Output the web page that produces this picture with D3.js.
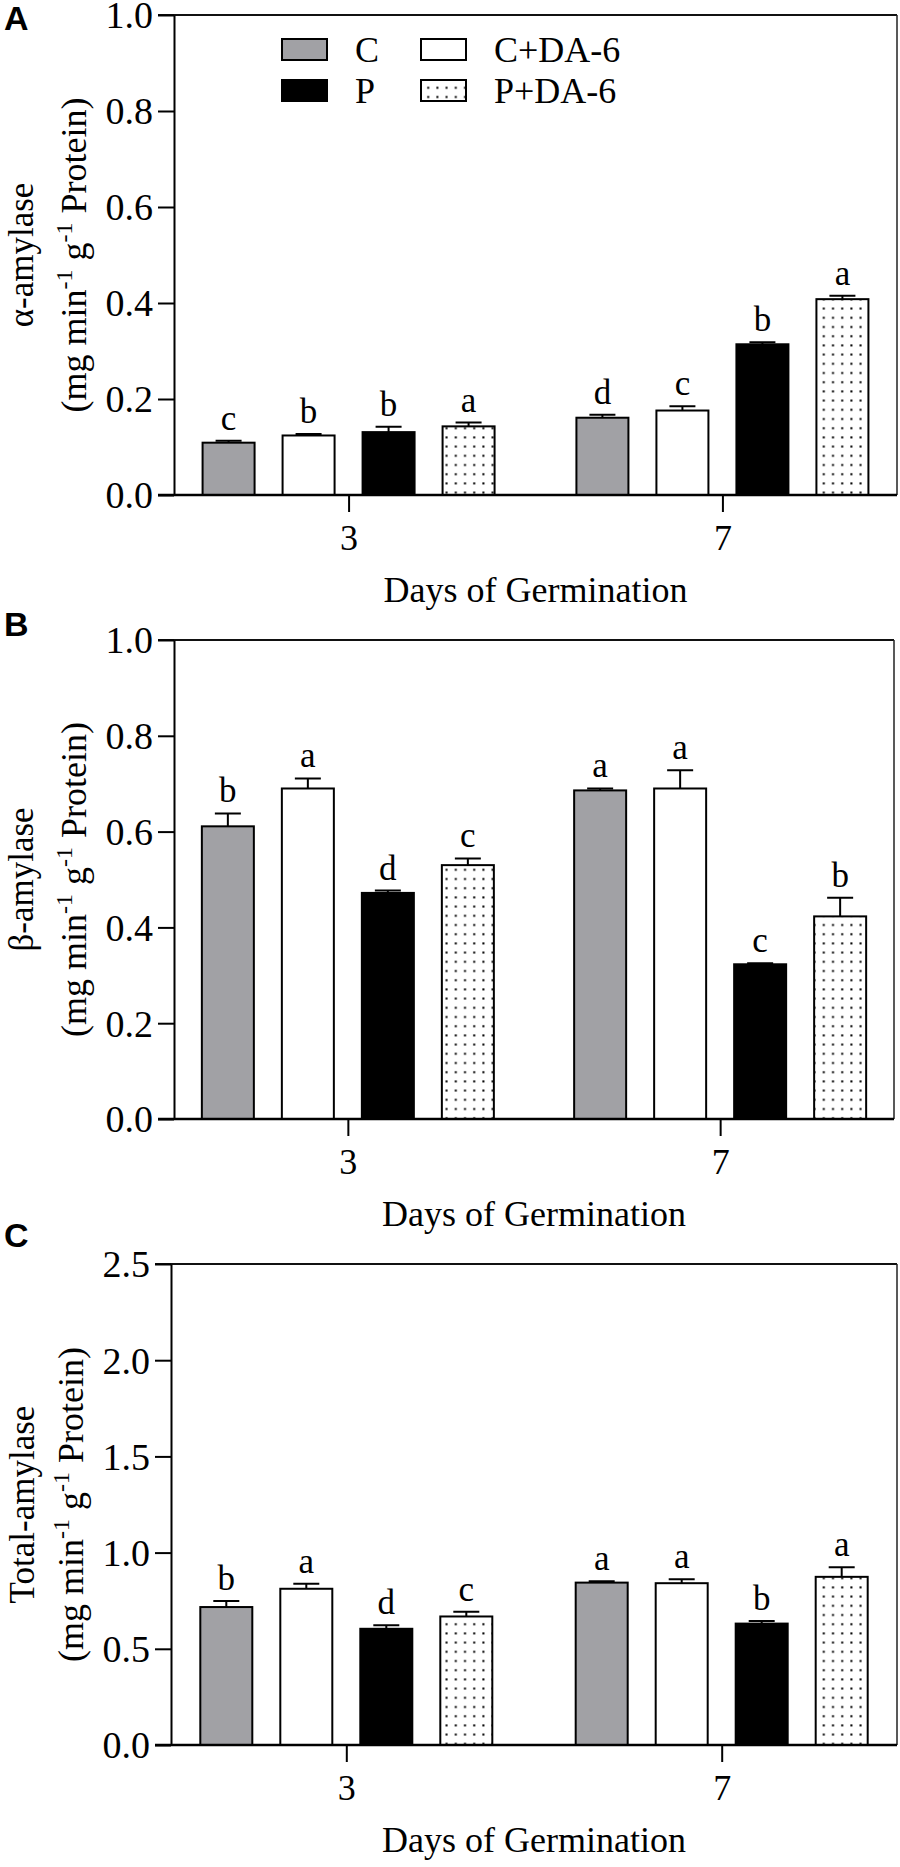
<!DOCTYPE html>
<html>
<head>
<meta charset="utf-8">
<script src="https://cdn.jsdelivr.net/npm/d3@7"></script>
<style>
  body { margin: 0; background: #fff; }
  svg text { font-family: "Liberation Serif", "Times New Roman", serif; fill: #000; }
  .panel-label { font-family: "Liberation Sans", Arial, sans-serif !important; font-weight: bold; }
</style>
</head>
<body>
<svg id="chart" width="900" height="1867"></svg>
<script>
// Categories
var days = ['3', '7'];
var series = ['C', 'C+DA-6', 'P', 'P+DA-6'];

// Panel A: alpha-amylase (day 3 then day 7, in series order)
var alphaMeans = [0.109, 0.124, 0.131, 0.143, 0.161, 0.176, 0.314, 0.408];
var alphaErr = [0.004, 0.003, 0.011, 0.008, 0.006, 0.009, 0.004, 0.007];
var alphaLetters = ['c', 'b', 'b', 'a', 'd', 'c', 'b', 'a'];

// Panel B: beta-amylase
var betaMeans = [0.611, 0.690, 0.472, 0.530, 0.686, 0.690, 0.323, 0.423];
var betaErr = [0.027, 0.021, 0.005, 0.014, 0.004, 0.038, 0.002, 0.039];
var betaLetters = ['b', 'a', 'd', 'c', 'a', 'a', 'c', 'b'];

// Panel C: total amylase
var totalMeans = [0.717, 0.812, 0.604, 0.668, 0.844, 0.841, 0.631, 0.874];
var totalErr = [0.031, 0.026, 0.019, 0.024, 0.007, 0.021, 0.013, 0.050];
var totalLetters = ['b', 'a', 'd', 'c', 'a', 'a', 'b', 'a'];

// Y tick labels
var ticksAB = [0, 0.2, 0.4, 0.6, 0.8, 1.0];
var ticksC = [0, 0.5, 1.0, 1.5, 2.0, 2.5];

var fills = {'C': '#a1a1a5', 'C+DA-6': '#ffffff', 'P': '#000000', 'P+DA-6': 'url(#dots)'};

var svg = d3.select('#chart');

// dotted fill for P+DA-6
var pat = svg.append('defs').append('pattern')
	.attr('id', 'dots')
	.attr('patternUnits', 'userSpaceOnUse')
	.attr('width', 9.2)
	.attr('height', 9.2);
pat.append('rect').attr('width', 9.2).attr('height', 9.2).attr('fill', '#fff');
pat.append('rect').attr('x', 4).attr('y', 4).attr('width', 2).attr('height', 2).attr('fill', '#000');

var panels = [
	{label: 'A', name: 'α-amylase', means: alphaMeans, err: alphaErr, letters: alphaLetters,
		ticks: ticksAB, top: 15, bottom: 495, left: 174, right: 897, labelY: 30, titleX: 33, legend: true},
	{label: 'B', name: 'β-amylase', means: betaMeans, err: betaErr, letters: betaLetters,
		ticks: ticksAB, top: 640, bottom: 1119, left: 174, right: 894, labelY: 636, titleX: 33},
	{label: 'C', name: 'Total-amylase', means: totalMeans, err: totalErr, letters: totalLetters,
		ticks: ticksC, top: 1264, bottom: 1745, left: 171, right: 897, labelY: 1247, titleX: 34}
];

panels.forEach(drawPanel);

function drawPanel(p) {
	var yMax = p.ticks[p.ticks.length - 1];
	var y = d3.scaleLinear().domain([0, yMax]).range([p.bottom, p.top]);
	var x = d3.scalePoint().domain(days).range([p.left, p.right]).padding(0.467);
	var inner = d3.scaleBand().domain(series).range([-160, 160])
		.paddingInner(0.35).paddingOuter(0.175);

	var rows = [];
	days.forEach(function(day, di) {
		series.forEach(function(s, si) {
			var k = di * series.length + si;
			rows.push({day: day, series: s, mean: p.means[k], err: p.err[k], letter: p.letters[k]});
		});
	});

	var g = svg.append('g');

	// frame top + right
	g.append('line')
		.attr('x1', p.left - 16).attr('x2', p.right)
		.attr('y1', p.top).attr('y2', p.top)
		.attr('stroke', '#111').attr('stroke-width', 1.8);
	g.append('line')
		.attr('x1', p.right).attr('x2', p.right)
		.attr('y1', p.top).attr('y2', p.bottom)
		.attr('stroke', '#222').attr('stroke-width', 1.5);

	// bars
	var bx = function(d) { return x(d.day) + inner(d.series); };
	g.selectAll('.bar')
		.data(rows)
		.enter()
		.append('rect')
		.attr('class', 'bar')
		.attr('x', bx)
		.attr('y', function(d) { return y(d.mean); })
		.attr('width', inner.bandwidth())
		.attr('height', function(d) { return y(0) - y(d.mean); })
		.attr('fill', function(d) { return fills[d.series]; })
		.attr('stroke', '#000')
		.attr('stroke-width', 2);

	// error bars (upper only)
	var cx = function(d) { return bx(d) + inner.bandwidth() / 2; };
	g.selectAll('.err')
		.data(rows)
		.enter()
		.append('path')
		.attr('class', 'err')
		.attr('d', function(d) {
			var top = y(d.mean + d.err);
			return 'M' + cx(d) + ',' + y(d.mean) + 'V' + top +
				'M' + (cx(d) - 13) + ',' + top + 'H' + (cx(d) + 13);
		})
		.attr('fill', 'none')
		.attr('stroke', '#000')
		.attr('stroke-width', 2);

	// significance letters
	g.selectAll('.sig')
		.data(rows)
		.enter()
		.append('text')
		.attr('class', 'sig')
		.attr('x', cx)
		.attr('y', function(d) { return y(d.mean + d.err) - 11; })
		.attr('text-anchor', 'middle')
		.style('font-size', '35px')
		.text(function(d) { return d.letter; });

	// y axis
	var yAxis = g.append('g')
		.attr('transform', 'translate(' + p.left + ',0)')
		.call(d3.axisLeft(y).tickValues(p.ticks).tickFormat(d3.format('.1f'))
			.tickSize(16).tickSizeOuter(0).tickPadding(5));
	yAxis.select('.domain').attr('stroke', '#000').attr('stroke-width', 2);
	yAxis.selectAll('.tick line').attr('stroke', '#000').attr('stroke-width', 2);
	yAxis.selectAll('.tick text')
		.attr('dy', '0.34em')
		.style('font-size', '38px')
		.style('font-family', '"Liberation Serif", "Times New Roman", serif');

	// x axis
	var xAxis = g.append('g')
		.attr('transform', 'translate(0,' + p.bottom + ')')
		.call(d3.axisBottom(x).tickSize(17).tickSizeOuter(0));
	xAxis.select('.domain').attr('d', 'M' + (p.left - 16) + ',0H' + p.right)
		.attr('stroke', '#000').attr('stroke-width', 2.4);
	xAxis.selectAll('.tick line').attr('stroke', '#000').attr('stroke-width', 2);
	xAxis.selectAll('.tick text')
		.attr('dy', null)
		.attr('y', 55)
		.style('font-size', '36px')
		.style('font-family', '"Liberation Serif", "Times New Roman", serif');

	// x title
	g.append('text')
		.attr('x', (p.left + p.right) / 2)
		.attr('y', p.bottom + 107)
		.attr('text-anchor', 'middle')
		.style('font-size', '36px')
		.text('Days of Germination');

	// y title, two lines
	var midY = (p.top + p.bottom) / 2;
	g.append('text')
		.attr('transform', 'translate(' + p.titleX + ',' + midY + ') rotate(-90)')
		.attr('text-anchor', 'middle')
		.style('font-size', '35px')
		.text(p.name);
	var unit = g.append('text')
		.attr('transform', 'translate(' + (p.left - 88) + ',' + midY + ') rotate(-90)')
		.attr('text-anchor', 'middle')
		.style('font-size', '36px');
	unit.append('tspan').text('(mg min');
	unit.append('tspan').attr('dy', -14).style('font-size', '24px').text('-1');
	unit.append('tspan').attr('dy', 14).text(' g');
	unit.append('tspan').attr('dy', -14).style('font-size', '24px').text('-1');
	unit.append('tspan').attr('dy', 14).text(' Protein)');

	// panel letter
	svg.append('text')
		.attr('class', 'panel-label')
		.attr('x', 4)
		.attr('y', p.labelY)
		.style('font-size', '34px')
		.text(p.label);

	if (p.legend) drawLegend(g, p.top);
}

function drawLegend(g, top) {
	// two columns: C / P on the left, C+DA-6 / P+DA-6 on the right
	var pos = {
		'C': [282, 24], 'P': [282, 65],
		'C+DA-6': [421, 24], 'P+DA-6': [421, 65]
	};
	series.forEach(function(s) {
		var xy = pos[s];
		g.append('rect')
			.attr('x', xy[0]).attr('y', top + xy[1])
			.attr('width', 45).attr('height', 21)
			.attr('fill', fills[s])
			.attr('stroke', '#000').attr('stroke-width', 2);
		g.append('text')
			.attr('x', xy[0] + 73)
			.attr('y', top + xy[1] + 23)
			.style('font-size', '36px')
			.text(s);
	});
}
</script>
</body>
</html>
